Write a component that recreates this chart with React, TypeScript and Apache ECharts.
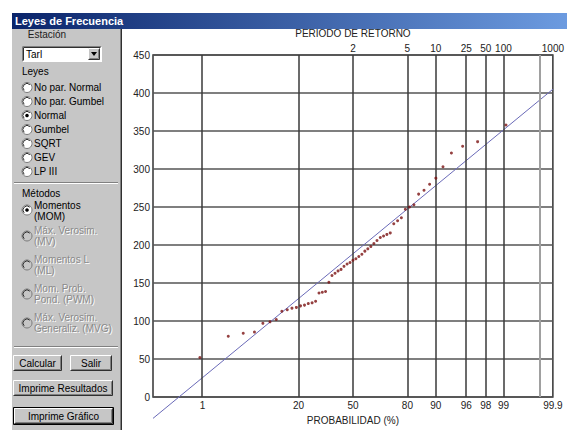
import React, { useEffect, useRef } from 'react';
import * as echarts from 'echarts';

// ---------- data ----------
const Y_MIN = 0;
const Y_MAX = 450;
const Y_STEP = 50;

const PROB_TICKS = [1, 20, 50, 80, 90, 96, 98, 99, 99.9];
const PROB_LABELS = ['1', '20', '50', '80', '90', '96', '98', '99', '99.9'];
const RETURN_PERIODS = [2, 5, 10, 25, 50, 100, 1000];
const RETURN_LABELS = ['2', '5', '10', '25', '50', '100', '1000'];
const GRID_PROBS = [1, 20, 50, 80, 90, 96, 98, 99];
const LIGHT_GRID_PROBS = [99.8];
const X_RANGE_PROBS = [0.1, 99.9];

const OBS_PROB = [
  0.9, 2.7, 4.5, 6.4, 8.2, 10, 11.8, 13.6, 15.5, 17.3, 19.1, 20.9, 22.7, 24.5,
  26.4, 28.2, 30, 31.8, 33.6, 35.5, 37.3, 39.1, 40.9, 42.7, 44.5, 46.4, 48.2, 50,
  51.8, 53.6, 55.5, 57.3, 59.1, 60.9, 62.7, 64.5, 66.4, 68.2, 70, 71.8, 73.6, 75.5,
  77.3, 79.1, 80.9, 82.7, 84.5, 86.4, 88.2, 90, 91.8, 93.6, 95.5, 97.3, 99.1,
];
const OBS_VALUE = [
  52, 80, 84, 85.5, 97, 99, 102, 113, 115, 117, 118, 120, 121, 123,
  124, 126, 137, 138, 139, 151, 160, 163, 166, 168, 172, 175, 177, 180,
  182, 185, 188, 192, 195, 198, 202, 206, 210, 212, 214, 216, 228, 232,
  236, 247, 250, 253, 267, 272, 280, 288, 303, 321, 330, 336, 358,
];
const FIT_PROB = [0.1, 99.9];
const FIT_VALUE = [-28, 405];

const LAWS = ['No par. Normal', 'No par. Gumbel', 'Normal', 'Gumbel', 'SQRT', 'GEV', 'LP III'];
const SELECTED_LAW = 2;
const METHOD_ACTIVE = ['Momentos', '(MOM)'];
const METHODS_DISABLED = [
  ['Máx. Verosim.', '(MV)'],
  ['Momentos L', '(ML)'],
  ['Mom. Prob.', 'Pond. (PWM)'],
  ['Máx. Verosim.', 'Generaliz. (MVG)'],
];

// ---------- helpers ----------
function normInv(p: number): number {
  const a = [-3.969683028665376e1, 2.209460984245205e2, -2.759285104469687e2, 1.38357751867269e2, -3.066479806614716e1, 2.506628277459239];
  const b = [-5.447609879822406e1, 1.615858368580409e2, -1.556989798598866e2, 6.680131188771972e1, -1.328068155288572e1];
  const c = [-7.784894002430293e-3, -3.223964580411365e-1, -2.400758277161838, -2.549732539343734, 4.374664141464968, 2.938163982698783];
  const d = [7.784695709041462e-3, 3.224671290700398e-1, 2.445134137142996, 3.754408661907416];
  const pl = 0.02425;
  const ph = 1 - pl;
  if (p < pl) {
    const q = Math.sqrt(-2 * Math.log(p));
    return (((((c[0] * q + c[1]) * q + c[2]) * q + c[3]) * q + c[4]) * q + c[5]) / ((((d[0] * q + d[1]) * q + d[2]) * q + d[3]) * q + 1);
  }
  if (p <= ph) {
    const q = p - 0.5;
    const r = q * q;
    return ((((((a[0] * r + a[1]) * r + a[2]) * r + a[3]) * r + a[4]) * r + a[5]) * q) / (((((b[0] * r + b[1]) * r + b[2]) * r + b[3]) * r + b[4]) * r + 1);
  }
  const q = Math.sqrt(-2 * Math.log(1 - p));
  return -(((((c[0] * q + c[1]) * q + c[2]) * q + c[3]) * q + c[4]) * q + c[5]) / ((((d[0] * q + d[1]) * q + d[2]) * q + d[3]) * q + 1);
}
const zOf = (pct: number) => normInv(pct / 100);

const FONT = '"Liberation Sans", Arial, sans-serif';
const PANEL = '#c6c6c6';

function txt(x: number, y: number, text: string, o: any = {}) {
  return {
    type: 'text',
    x,
    y,
    silent: true,
    z: 20,
    style: {
      text,
      fill: o.fill || '#000',
      font: `${o.bold ? 'bold ' : ''}${o.size || 10}px ${FONT}`,
      align: o.align || 'left',
      textAlign: o.align || 'left',
      verticalAlign: 'middle',
      textVerticalAlign: 'middle',
    },
  };
}
function rect(x: number, y: number, w: number, h: number, fill: any, stroke: any = null, lw = 1) {
  return { type: 'rect', silent: true, z: 10, shape: { x, y, width: w, height: h }, style: { fill, stroke, lineWidth: lw } };
}
function pl(points: number[][], stroke: string, lw = 1) {
  return { type: 'polyline', silent: true, z: 15, shape: { points }, style: { stroke, lineWidth: lw, fill: null } };
}
function raised(x: number, y: number, w: number, h: number) {
  return [
    rect(x, y, w, h, PANEL),
    pl([[x + 0.5, y + h - 0.5], [x + 0.5, y + 0.5], [x + w - 0.5, y + 0.5]], '#ffffff'),
    pl([[x + 0.5, y + h - 0.5], [x + w - 0.5, y + h - 0.5], [x + w - 0.5, y + 0.5]], '#303030'),
    pl([[x + 1.5, y + h - 1.5], [x + w - 1.5, y + h - 1.5], [x + w - 1.5, y + 1.5]], '#808080'),
  ];
}
function button(x: number, y: number, w: number, h: number, label: string, isDefault = false) {
  const els: any[] = [];
  if (isDefault) els.push(rect(x - 0.5, y - 0.5, w + 1, h + 1, null, '#000'));
  els.push(...raised(x, y, w, h));
  els.push(txt(x + w / 2, y + h / 2, label, { align: 'center' }));
  return els;
}
function radio(cx: number, cy: number, checked: boolean, disabled = false) {
  return [
    { type: 'circle', silent: true, z: 15, shape: { cx, cy, r: 5 }, style: { fill: disabled ? PANEL : '#ffffff', stroke: '#7a7a7a', lineWidth: 1 } },
    { type: 'arc', silent: true, z: 16, shape: { cx, cy, r: 4, startAngle: Math.PI * 0.75, endAngle: Math.PI * 1.75 }, style: { stroke: '#303030', lineWidth: 1, fill: null } },
    ...(checked ? [{ type: 'circle', silent: true, z: 17, shape: { cx, cy, r: 1.8 }, style: { fill: disabled ? '#808080' : '#000' } }] : []),
  ];
}
function etched(x1: number, x2: number, y: number) {
  return [pl([[x1, y + 0.5], [x2, y + 0.5]], '#808080'), pl([[x1, y + 1.5], [x2, y + 1.5]], '#ffffff')];
}
function disabledText(x: number, y: number, t: string) {
  return [txt(x + 1, y + 1, t, { fill: '#ffffff' }), txt(x, y, t, { fill: '#8a8a8a' })];
}

function buildGraphic() {
  const els: any[] = [];
  // title bar
  els.push({
    type: 'rect', silent: true, z: 10,
    shape: { x: 12, y: 13, width: 555, height: 16 },
    style: { fill: new echarts.graphic.LinearGradient(0, 0, 1, 0, [{ offset: 0, color: '#0a246a' }, { offset: 1, color: '#6c9be0' }]) },
  });
  els.push(txt(15, 21, 'Leyes de Frecuencia', { fill: '#ffffff', bold: true, size: 11 }));
  // left panel
  els.push(rect(12, 29, 108, 401, PANEL));
  els.push(pl([[120.5, 29], [120.5, 430]], '#808080'));
  els.push(pl([[121.5, 29], [121.5, 430]], '#303030'));
  // station
  els.push(txt(47, 34, 'Estación', { align: 'center', fill: '#202020' }));
  els.push(rect(22, 46, 80, 16, '#ffffff'));
  els.push(pl([[22.5, 61.5], [22.5, 46.5], [101.5, 46.5]], '#808080'));
  els.push(pl([[23.5, 60.5], [23.5, 47.5], [100.5, 47.5]], '#303030'));
  els.push(txt(26, 54.5, 'Tarl'));
  els.push(...raised(88, 48, 12, 12));
  els.push({ type: 'polygon', silent: true, z: 20, shape: { points: [[91, 52], [97, 52], [94, 56]] }, style: { fill: '#000' } });
  // laws
  els.push(txt(22, 71, 'Leyes'));
  LAWS.forEach((l, i) => {
    const y = 87.5 + 14 * i;
    els.push(...radio(27, y, i === SELECTED_LAW));
    els.push(txt(34, y, l));
  });
  els.push(...etched(14, 118, 182));
  // methods
  els.push(txt(22, 193, 'Métodos'));
  els.push(...radio(27, 210, true));
  els.push(txt(34, 205, METHOD_ACTIVE[0]));
  els.push(txt(34, 216, METHOD_ACTIVE[1]));
  METHODS_DISABLED.forEach((m, i) => {
    const y = 236 + 29 * i;
    els.push(...radio(27, y, false, true));
    els.push(...disabledText(34, y - 6, m[0]));
    els.push(...disabledText(34, y + 5, m[1]));
  });
  els.push(...etched(14, 118, 346));
  // buttons
  els.push(...button(13, 355, 49, 16, 'Calcular'));
  els.push(...button(70, 355, 42, 16, 'Salir'));
  els.push(...button(13, 380, 100, 16, 'Imprime Resultados'));
  els.push(...button(14, 408, 99, 16, 'Imprime Gráfico', true));
  return els;
}

function labelFor(v: number, ticks: number[], labels: string[]) {
  for (let i = 0; i < ticks.length; i++) {
    if (Math.abs(ticks[i] - v) < 1e-6) return labels[i];
  }
  return '';
}

export default function App() {
  const ref = useRef<HTMLDivElement>(null);
  useEffect(() => {
    if (!ref.current) return;
    const chart = echarts.init(ref.current, null, { renderer: 'svg' });
    const zMin = zOf(X_RANGE_PROBS[0]);
    const zMax = zOf(X_RANGE_PROBS[1]);
    const bottomZ = PROB_TICKS.map(zOf);
    const topZ = RETURN_PERIODS.map((t) => zOf(100 * (1 - 1 / t)));
    const axisFont = { fontSize: 10, color: '#222', fontFamily: FONT };
    const option: any = {
      animation: false,
      backgroundColor: '#ffffff',
      grid: { left: 153, right: 10, top: 55, bottom: 26, show: true, borderColor: '#333', borderWidth: 1.5, backgroundColor: '#fff' },
      xAxis: [
        {
          type: 'value', position: 'bottom', min: zMin, max: zMax,
          axisLine: { show: false }, axisTick: { show: false }, splitLine: { show: false },
          axisLabel: { ...axisFont, margin: 3, customValues: bottomZ, formatter: (v: number) => labelFor(v, bottomZ, PROB_LABELS) },
          name: 'PROBABILIDAD (%)', nameLocation: 'middle', nameGap: 14, nameTextStyle: axisFont,
        },
        {
          type: 'value', position: 'top', min: zMin, max: zMax,
          axisLine: { show: false }, axisTick: { show: false }, splitLine: { show: false },
          axisLabel: { ...axisFont, margin: 2, customValues: topZ, formatter: (v: number) => labelFor(v, topZ, RETURN_LABELS) },
          name: 'PERIODO DE RETORNO', nameLocation: 'middle', nameGap: 15, nameTextStyle: axisFont,
        },
      ],
      yAxis: {
        type: 'value', min: Y_MIN, max: Y_MAX, interval: Y_STEP,
        axisLine: { show: false }, axisTick: { show: false },
        axisLabel: { ...axisFont, margin: 3 },
        splitLine: { lineStyle: { color: '#555', width: 1.5 } },
      },
      series: [
        {
          type: 'line', data: [], z: 1, silent: true,
          markLine: {
            silent: true, symbol: ['none', 'none'], label: { show: false }, animation: false,
            data: [
              ...GRID_PROBS.map((p) => ({ xAxis: zOf(p), lineStyle: { color: '#3a3a3a', width: 1.5, type: 'solid' } })),
              ...LIGHT_GRID_PROBS.map((p) => ({ xAxis: zOf(p), lineStyle: { color: '#a0a0a0', width: 2, type: 'solid' } })),
            ],
          },
        },
        {
          type: 'line', z: 4, silent: true, clip: false, symbol: 'none',
          lineStyle: { color: '#6a6ab8', width: 1 },
          data: FIT_PROB.map((p, i) => [zOf(p), FIT_VALUE[i]]),
        },
        {
          type: 'scatter', z: 5, silent: true, symbol: 'circle', symbolSize: 3,
          itemStyle: { color: '#7a1212' },
          data: OBS_PROB.map((p, i) => [zOf(p), OBS_VALUE[i]]),
        },
      ],
      graphic: { elements: buildGraphic() },
    };
    chart.setOption(option);
    return () => chart.dispose();
  }, []);
  return <div ref={ref} style={{ position: 'absolute', left: 0, top: 0, width: 567, height: 430, background: '#fff' }} />;
}
